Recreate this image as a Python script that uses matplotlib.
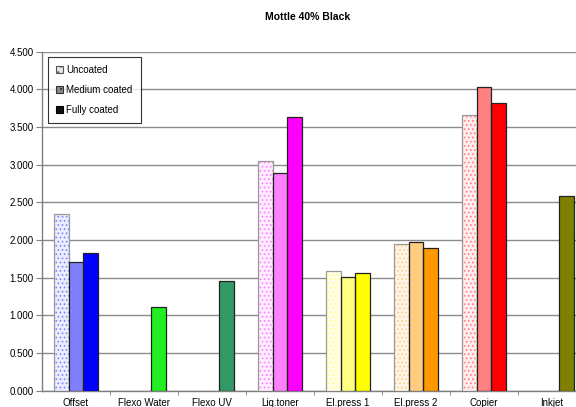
import matplotlib.pyplot as plt
import numpy as np
from matplotlib.patches import Patch

plt.rcParams["font.family"] = ["Liberation Sans", "DejaVu Sans"]
plt.rcParams["hatch.linewidth"] = 0.7

processes = ["Offset", "Flexo Water", "Flexo UV", "Liq.toner",
             "El.press 1", "El.press 2", "Copier", "Inkjet"]
series = ["Uncoated", "Medium coated", "Fully coated"]

# nan where a process was not measured on that paper
uncoated = [2.35, np.nan, np.nan, 3.05, 1.585, 1.945, 3.655, np.nan]
medium_coated = [1.71, np.nan, np.nan, 2.895, 1.515, 1.975, 4.035, np.nan]
fully_coated = [1.83, 1.115, 1.45, 3.63, 1.565, 1.89, 3.815, 2.585]

# per process: (uncoated, medium, fully) fill colours
colors = [
    ("#ececff", "#8080ff", "#0000ff"),
    (None, None, "#22ee22"),
    (None, None, "#339966"),
    ("#ffecff", "#ff80ff", "#ff00ff"),
    ("#ffffe8", "#ffff80", "#ffff00"),
    ("#fff4e6", "#ffcc80", "#ff9900"),
    ("#ffecec", "#ff8080", "#ff0000"),
    (None, None, "#808000"),
]
outline_colors = ["#999999", "#222222", "#222222"]

fig = plt.figure(figsize=(5.76, 4.07), dpi=100)
ax = fig.add_axes([42 / 576, 1 - 390.7 / 407, 544 / 576, 339 / 407])

x = np.arange(len(processes))
width = 0.22
for k, values in enumerate([uncoated, medium_coated, fully_coated]):
    for i, v in enumerate(values):
        if np.isnan(v):
            continue
        pos = x[i] + (k - 1) * width
        # dotted fill: tinted dots on the light bars, plain on the rest
        ax.bar(pos, v, width, color=colors[i][k], hatch="....",
               edgecolor=colors[i][1] if k == 0 else colors[i][k],
               linewidth=0, zorder=3)
        ax.bar(pos, v, width, fill=False, edgecolor=outline_colors[k],
               linewidth=0.9, zorder=4)

ax.set_xlim(-0.5, 7.5)
ax.set_ylim(0, 4.5)
ax.set_yticks(np.arange(0, 4.51, 0.5))
ax.set_yticklabels([f"{t:.3f}" for t in np.arange(0, 4.51, 0.5)], fontsize=7)
ax.set_xticks(x)
ax.set_xticklabels(processes, fontsize=7)
ax.set_xticks(np.arange(0.5, 7.5, 1), minor=True)
ax.tick_params(axis="x", which="major", length=0, pad=5)
ax.tick_params(axis="x", which="minor", length=3, color="#808080")
ax.tick_params(axis="y", length=4, color="#808080", pad=2)
ax.grid(axis="y", color="#8c8c8c", linewidth=1, zorder=0)
ax.set_axisbelow(True)
for side in ["top", "right"]:
    ax.spines[side].set_visible(False)
for side in ["left", "bottom"]:
    ax.spines[side].set_color("#808080")
    ax.spines[side].set_linewidth(1)

handles = [
    Patch(facecolor="#e8e8e8", edgecolor="#555555", hatch="...", linewidth=0.8),
    Patch(facecolor="#888888", edgecolor="#333333", hatch="...", linewidth=0.8),
    Patch(facecolor="#111111", edgecolor="#000000", linewidth=0.8),
]
leg = ax.legend(handles, series, loc="upper left",
                bbox_to_anchor=(6 / 544, 1 - 5.3 / 339),
                fontsize=7, frameon=True, fancybox=False,
                handlelength=0.7, handleheight=0.7, handletextpad=0.4,
                labelspacing=1.05, borderpad=0.8, borderaxespad=0)
leg.get_frame().set_edgecolor("#000000")
leg.get_frame().set_linewidth(0.8)
leg.set_zorder(5)

fig.text(308 / 576, 1 - 17 / 407, "Mottle 40% Black", ha="center",
         va="center", fontsize=7.5, fontweight="bold")

fig.savefig("out.png", dpi=100)
